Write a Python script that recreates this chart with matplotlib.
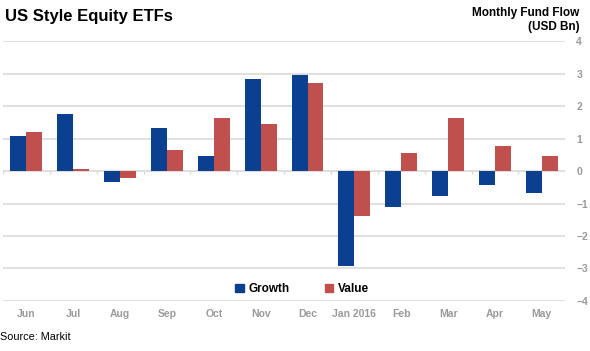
import matplotlib
matplotlib.use("Agg")
import matplotlib.pyplot as plt
import numpy as np
from matplotlib.patches import Patch

plt.rcParams['font.family'] = ['Liberation Sans', 'DejaVu Sans']

months = ["Jun", "Jul", "Aug", "Sep", "Oct", "Nov", "Dec", "Jan 2016", "Feb", "Mar", "Apr", "May"]
growth = [1.08, 1.75, -0.33, 1.32, 0.47, 2.83, 2.95, -2.92, -1.10, -0.77, -0.43, -0.68]
value = [1.20, 0.05, -0.20, 0.65, 1.63, 1.45, 2.70, -1.38, 0.55, 1.63, 0.77, 0.47]
yticks = [-4, -3, -2, -1, 0, 1, 2, 3, 4]

c_growth = "#0b3f8f"
c_value = "#c0504d"
grid_c = "#d9d9d9"
tick_c = "#9a9a9a"

fig = plt.figure(figsize=(5.9, 3.51), dpi=100)
ax = fig.add_axes([0.005, 0.1425, 0.953, 0.7405])

x = np.arange(len(months))
w = 0.34
ax.bar(x - w/2, growth, w, color=c_growth, zorder=3, label="Growth")
ax.bar(x + w/2, value, w, color=c_value, zorder=3, label="Value")

ax.set_xlim(-0.5, len(months) - 0.5)
ax.set_ylim(-4, 4)
ax.set_yticks(yticks)
ax.yaxis.tick_right()
ax.tick_params(axis='y', length=0, pad=8, labelsize=7.5, labelcolor=tick_c)
ax.set_xticks(x)
ax.set_xticklabels(months)
ax.tick_params(axis='x', length=0, pad=6, labelsize=7.5, labelcolor=tick_c)
for lbl in ax.get_xticklabels() + ax.get_yticklabels():
    lbl.set_fontweight('bold')
for t in yticks:
    ax.axhline(t, color=grid_c, lw=1.2, zorder=1)
for s in ax.spines.values():
    s.set_visible(False)
# small category boundary ticks on zero line
ax.vlines(np.arange(len(months) + 1) - 0.5, -0.09, 0, color=grid_c, lw=1, zorder=2)

handles = [Patch(color=c_growth), Patch(color=c_value)]
leg = ax.legend(handles, ["Growth", "Value"], loc='lower center', bbox_to_anchor=(0.532, 0.0),
                ncol=2, frameon=False, handlelength=0.7, handleheight=0.7, borderaxespad=0.1,
                columnspacing=3.0, handletextpad=0.4, prop={'weight': 'bold', 'size': 8.5})

fig.text(0.008, 0.953, "US Style Equity ETFs", fontsize=12, fontweight='bold', va='center', ha='left')
fig.text(0.982, 0.963, "Monthly Fund Flow", fontsize=8.5, fontweight='bold', va='center', ha='right')
fig.text(0.982, 0.923, "(USD Bn)", fontsize=8.5, fontweight='bold', va='center', ha='right')
fig.text(0.0, 0.04, "Source: Markit", fontsize=7.8, va='center', ha='left')

fig.savefig("out.png", dpi=100)
